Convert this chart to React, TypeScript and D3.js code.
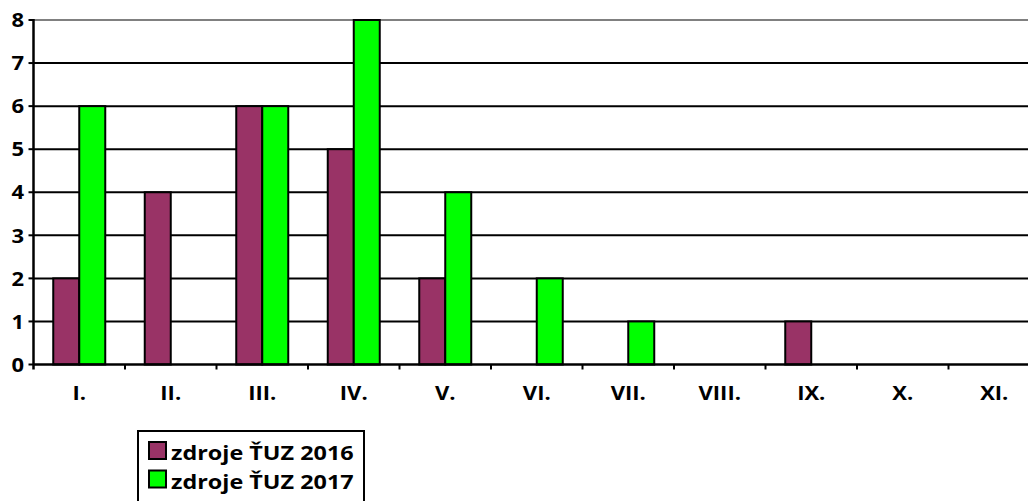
import React from "react";
import * as d3 from "d3";

const categories = ["I.", "II.", "III.", "IV.", "V.", "VI.", "VII.", "VIII.", "IX.", "X.", "XI."];
const series2016 = [2, 4, 6, 5, 2, 0, 0, 0, 1, 0, 0];
const series2017 = [6, 0, 6, 8, 4, 2, 1, 0, 0, 0, 0];
const seriesNames = ["zdroje ŤUZ 2016", "zdroje ŤUZ 2017"];
const seriesColors = ["#993366", "#00FF00"];
const yTicks = [0, 1, 2, 3, 4, 5, 6, 7, 8];

const W = 1028;
const H = 501;
const left = 33.5;
const right = 1040;
const top = 20;
const bottom = 364.5;
const FONT = "'Open Sans', sans-serif";
const SX = 1.1;

export default function App() {
  const x = d3.scaleBand<string>().domain(categories).range([left, right]).padding(0);
  const y = d3.scaleLinear().domain([0, 8]).range([bottom, top]);
  const barW = 26;
  const all = [series2016, series2017];

  return (
    <svg width={W} height={H} style={{ position: "absolute", left: 0, top: 0, display: "block" }}>
      <rect x={0} y={0} width={W} height={H} fill="#fff" />
      {yTicks.filter((t) => t > 0).map((t) => (
        <line key={t} x1={left} x2={right} y1={y(t)} y2={y(t)}
          stroke={t === 8 ? "#808080" : "#000"} strokeWidth={2} />
      ))}
      {all.map((s, si) =>
        s.map((v, i) => {
          if (v === 0) return null;
          const cx = (x(categories[i]) as number) + x.bandwidth() / 2;
          const bx = cx - barW + si * barW;
          return (
            <rect key={si + "-" + i} x={bx} y={y(v)} width={barW} height={y(0) - y(v)}
              fill={seriesColors[si]} stroke="#000" strokeWidth={2} />
          );
        })
      )}
      <line x1={left} x2={left} y1={top - 1} y2={bottom + 5} stroke="#000" strokeWidth={2.5} />
      {yTicks.map((t) => (
        <g key={t}>
          <line x1={left - 5} x2={left} y1={y(t)} y2={y(t)} stroke="#000" strokeWidth={2} />
          <text transform={`translate(24,${y(t)}) scale(${SX},1)`} dy="0.36em" textAnchor="end"
            fontFamily={FONT} fontWeight={700} fontSize={20} fill="#000">{t}</text>
        </g>
      ))}
      <line x1={left} x2={right} y1={bottom} y2={bottom} stroke="#000" strokeWidth={2.5} />
      {categories.map((c, i) => {
        const bx = (x(c) as number) + x.bandwidth();
        return <line key={"t" + i} x1={bx} x2={bx} y1={bottom} y2={bottom + 5} stroke="#000" strokeWidth={2} />;
      })}
      {categories.map((c) => (
        <text key={c} transform={`translate(${(x(c) as number) + x.bandwidth() / 2},${400}) scale(${SX},1)`}
          textAnchor="middle" fontFamily={FONT} fontWeight={700} fontSize={20} fill="#000">{c}</text>
      ))}
      <rect x={138} y={431} width={226} height={80} fill="#fff" stroke="#000" strokeWidth={2} />
      {seriesNames.map((n, i) => (
        <g key={n}>
          <rect x={149} y={442 + i * 28.5} width={17} height={17} fill={seriesColors[i]} stroke="#000" strokeWidth={2} />
          <text transform={`translate(171,${460 + i * 28.5}) scale(1.17,1)`} fontFamily={FONT}
            fontWeight={700} fontSize={20} fill="#000">{n}</text>
        </g>
      ))}
    </svg>
  );
}
